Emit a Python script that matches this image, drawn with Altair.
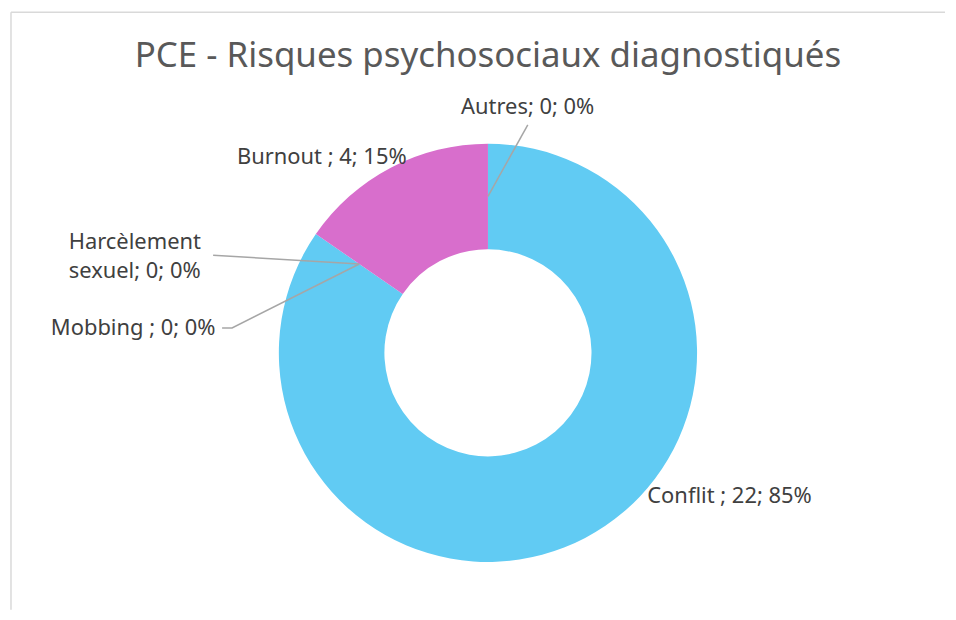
import math
import altair as alt
import pandas as pd

# ---------------- data ----------------
title_text = "PCE - Risques psychosociaux diagnostiqués"
categories = ["Conflit ", "Mobbing ", "Harcèlement sexuel", "Burnout ", "Autres"]
values = [22, 0, 0, 4, 0]
colors = ["#61CBF3", "#A6A6A6", "#8ED973", "#D86ECC", "#F2AA84"]

# ---------------- layout ----------------
W, H = 938, 600
CX, CY = 479, 342
R_OUT, R_IN = 210, 104
R_MID = (R_OUT + R_IN) / 2
FONT = "Noto Sans"
LABEL_SIZE = 22
# label anchor (left x, baseline y) in view coordinates
label_anchor = {
    "Conflit ": (639, 493),
    "Mobbing ": (40, 324),
    "Harcèlement sexuel": (58, 238),
    "Burnout ": (227, 152),
    "Autres": (452, 102),
}
# leader start points (label side), per zero-valued slice
leader_start = {
    "Mobbing ": [(212, 317), (222, 317)],
    "Harcèlement sexuel": [(203, 244)],
    "Autres": [(519, 113)],
}

total = sum(values)
rows = []
cum = 0
mid_angle = {}
for i, (c, v) in enumerate(zip(categories, values)):
    a0 = cum / total * 2 * math.pi
    cum += v
    a1 = cum / total * 2 * math.pi
    mid_angle[c] = (a0 + a1) / 2
    pct = round(v / total * 100)
    lab = f"{c}; {v}; {pct}%"
    if c == "Harcèlement sexuel":
        lab = "Harcèlement\nsexuel; 0; 0%"
    lx, ly = label_anchor[c]
    rows.append({"cat": c, "value": v, "ord": i, "label": lab, "lx": lx, "ly": ly})
df = pd.DataFrame(rows)

line_rows = []
for c, pts in leader_start.items():
    a = mid_angle[c]
    end = (CX + R_MID * math.sin(a), CY - R_MID * math.cos(a))
    allpts = pts + [end]
    for k, (x, y) in enumerate(allpts):
        line_rows.append({"id": c, "k": k, "x": x, "y": y})
lines_df = pd.DataFrame(line_rows)

arc = alt.Chart(df).mark_arc(outerRadius=R_OUT, innerRadius=R_IN).encode(
    theta=alt.Theta("value:Q", stack=True),
    order=alt.Order("ord:Q"),
    color=alt.Color("cat:N", scale=alt.Scale(domain=categories, range=colors), legend=None),
    x=alt.value(CX),
    y=alt.value(CY),
)

leaders = alt.Chart(lines_df).mark_line(color="#A6A6A6", strokeWidth=1.5).encode(
    x=alt.X("x:Q", scale=None, axis=None),
    y=alt.Y("y:Q", scale=None, axis=None),
    detail="id:N",
    order="k:Q",
)

labels = alt.Chart(df).mark_text(
    font=FONT, fontSize=LABEL_SIZE, color="#404040", align="left",
    baseline="alphabetic", lineBreak="\n", lineHeight=28.5,
).encode(
    x=alt.X("lx:Q", scale=None, axis=None),
    y=alt.Y("ly:Q", scale=None, axis=None),
    text="label:N",
)

title = alt.Chart(pd.DataFrame({"t": [title_text]})).mark_text(
    font=FONT, fontSize=35, color="#595959", align="center", baseline="alphabetic",
).encode(text="t:N", x=alt.value(479), y=alt.value(55))

frame = alt.Chart(pd.DataFrame({"z": [0]})).mark_rule(color="#D9D9D9", strokeWidth=1.5).encode(
    x=alt.value(0), x2=alt.value(W), y=alt.value(0), y2=alt.value(0)
)
frame2 = alt.Chart(pd.DataFrame({"z": [0]})).mark_rule(color="#D9D9D9", strokeWidth=1.5).encode(
    x=alt.value(0), x2=alt.value(0), y=alt.value(0), y2=alt.value(H)
)

chart = alt.layer(frame, frame2, arc, leaders, labels, title).properties(
    width=W, height=H, padding=2, background="white"
).configure_view(stroke=None)

chart.save("out.html", embed_options={"renderer": "svg", "actions": False})
